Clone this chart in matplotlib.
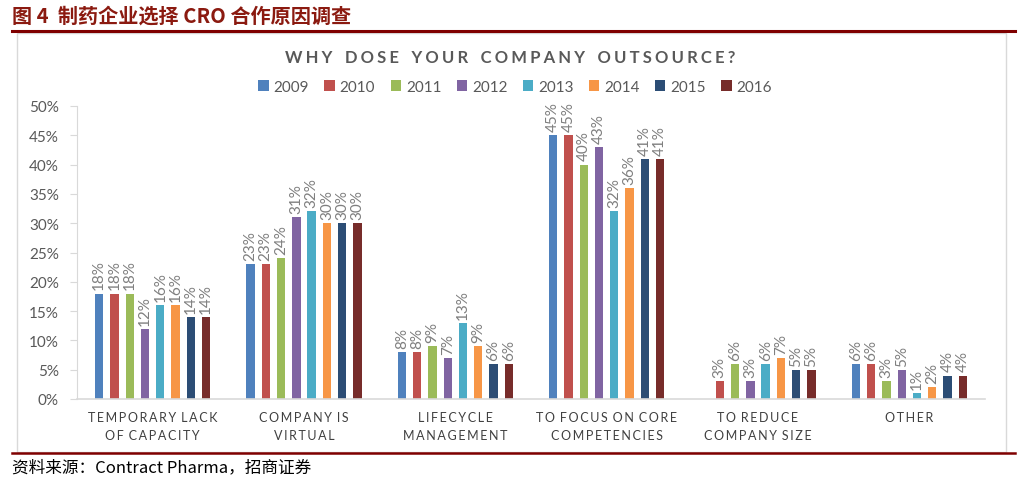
import matplotlib.pyplot as plt
from matplotlib.patches import Rectangle
from matplotlib.lines import Line2D

categories = ['TEMPORARY LACK\nOF CAPACITY', 'COMPANY IS\nVIRTUAL', 'LIFECYCLE\nMANAGEMENT',
              'TO FOCUS ON CORE\nCOMPETENCIES', 'TO REDUCE\nCOMPANY SIZE', 'OTHER']
years = ['2009', '2010', '2011', '2012', '2013', '2014', '2015', '2016']
v2009 = [18, 23, 8, 45, 0, 6]
v2010 = [18, 23, 8, 45, 3, 6]
v2011 = [18, 24, 9, 40, 6, 3]
v2012 = [12, 31, 7, 43, 3, 5]
v2013 = [16, 32, 13, 32, 6, 1]
v2014 = [16, 30, 9, 36, 7, 2]
v2015 = [14, 30, 6, 41, 5, 4]
v2016 = [14, 30, 6, 41, 5, 4]
series = [v2009, v2010, v2011, v2012, v2013, v2014, v2015, v2016]
colors = ['#4F81BD', '#C0504D', '#9BBB59', '#8064A2', '#4BACC6', '#F79646', '#2C4D75', '#772C2A']

W, H = 1032, 485
fig = plt.figure(figsize=(W / 100, H / 100), dpi=100)
fig.patch.set_facecolor('white')

EN = ['Lato', 'DejaVu Sans']
CJK = ['Noto Sans CJK SC', 'DejaVu Sans']


def spaced(s, gap='\u2009'):
    return '\n'.join(gap.join(w for w in line.replace(' ', gap)) for line in s.split('\n'))


# header / footer decoration
fig.text(12 / W, 1 - 16 / H, '图 4  制药企业选择 CRO 合作原因调查', family=CJK, fontsize=14.5,
         fontweight='bold', color='#8B1A10', va='center', ha='left')
fig.add_artist(Line2D([12 / W, 1015 / W], [1 - 32 / H, 1 - 32 / H], color='#7F0000', lw=2.2))
fig.add_artist(Line2D([12 / W, 1015 / W], [1 - 454 / H, 1 - 454 / H], color='#7F0000', lw=1.8))
fig.add_artist(Rectangle((17 / W, 1 - 453 / H), (1006 - 17) / W, (453 - 34) / H, fill=False,
                         edgecolor='#D9D9D9', lw=1))
fig.text(12 / W, 1 - 468 / H, '资料来源：Contract Pharma，招商证券', family=CJK, fontsize=12,
         color='black', va='center', ha='left')

ax = fig.add_axes([77 / W, 1 - 400 / H, (985 - 77) / W, (400 - 107) / H])
ax.set_xlim(-0.5, 5.5)
ax.set_ylim(0, 50)

pitch = 0.101
width = 0.055
for i, (vals, c, yr) in enumerate(zip(series, colors, years)):
    off = (i - 3.5) * pitch
    xs = [k + off for k in range(len(categories))]
    ax.bar(xs, vals, width=width, color=c, label=yr, zorder=2)
    for x, v in zip(xs, vals):
        if v > 0:
            ax.text(x, v + 0.7, f'{v}%', rotation=90, ha='center', va='bottom', fontsize=11,
                    color='#7F7F7F', family=EN, clip_on=False)

for s in ['top', 'right']:
    ax.spines[s].set_visible(False)
ax.spines['left'].set_color('#D9D9D9')
ax.spines['bottom'].set_color('#D9D9D9')
ax.spines['bottom'].set_linewidth(1.2)
ax.set_yticks(range(0, 51, 5))
ax.set_yticklabels([f'{t}%' for t in range(0, 51, 5)], family=EN, fontsize=11, color='#595959')
ax.tick_params(axis='y', length=5, color='#D9D9D9', pad=8)
ax.set_xticks(range(len(categories)))
ax.set_xticklabels([spaced(c) for c in categories], family=EN, fontsize=9, color='#404040',
                   linespacing=1.6)
ax.tick_params(axis='x', length=0, pad=9)

fig.text(510 / W, 1 - 58 / H, spaced('WHY DOSE YOUR COMPANY OUTSOURCE?', '\u2009\u200a'), family=EN,
         fontsize=12, fontweight='bold', color='#595959', ha='center', va='center')

leg = fig.legend(loc='center', bbox_to_anchor=(515 / W, 1 - 88 / H), ncol=8, frameon=False,
                 handlelength=0.7, handleheight=0.7, handletextpad=0.3, columnspacing=1.0,
                 prop={'family': EN, 'size': 11})
for t in leg.get_texts():
    t.set_color('#595959')

fig.savefig('out.png', dpi=100)
